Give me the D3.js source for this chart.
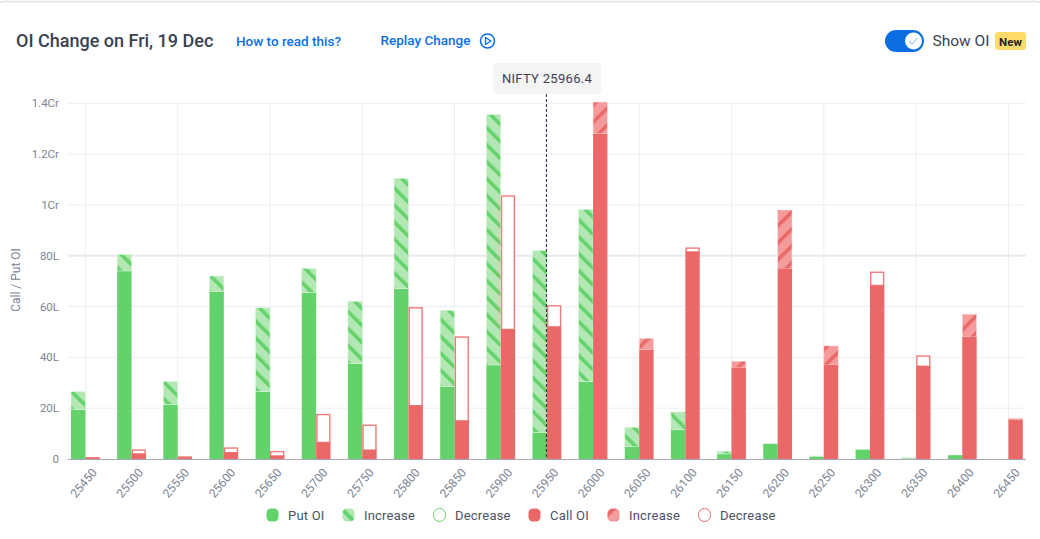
<!DOCTYPE html>
<html><head><meta charset="utf-8">
<script src="https://cdn.jsdelivr.net/npm/d3@7/dist/d3.min.js"></script>
<style>html,body{margin:0;padding:0;background:#fff;overflow:hidden}svg{display:block;font-family:Roboto,sans-serif}</style>
</head><body><svg id="c" width="1040" height="539"></svg>
<script>
const strikes=[25450,25500,25550,25600,25650,25700,25750,25800,25850,25900,25950,26000,26050,26100,26150,26200,26250,26300,26350,26400,26450];
const putBase=[19.5,74,21.5,66,26.5,65.5,37.5,67,28.5,37,10.5,30.5,5,11.5,2,6,1,3.7,0.3,1.5,0];
const putTop=[26.5,80.5,30.5,72,59.5,75,62,110.5,58.5,135.5,82,98.2,12.5,18.5,3,6,1.2,3.7,0.5,1.5,0];
const callBase=[0.2,2,0.4,2.5,1.2,6.5,3.5,21,15,51,52,128,43,81.5,36,75,37,68.3,36.5,48,15.5];
const callTop=[0.5,3.5,0.8,4.3,2.9,17.5,13.3,59.5,48,103.5,60.3,140.5,47.5,83,38.5,98,44.5,73.5,40.5,57,16];
const callKind=["dec","dec","dec","dec","dec","dec","dec","dec","dec","dec","dec","inc","inc","dec","inc","inc","inc","dec","dec","inc","inc"];
const yTicks=[0,20,40,60,80,100,120,140];
const yTickLabels=["0","20L","40L","60L","80L","1Cr","1.2Cr","1.4Cr"];
const legendItems=[["Put OI","put"],["Increase","putInc"],["Decrease","putDec"],["Call OI","call"],["Increase","callInc"],["Decrease","callDec"]];
const spot="NIFTY 25966.4", spotStrike=25950;

const GREEN="#64d26a",RED="#eb6868",PALEG="#b3e8b5",PALER="#f49c9c",TXT="#7c8394",INK="#3b4252",BLUE="#0b6fe3";
const svg=d3.select("#c");
const defs=svg.append("defs");
function hatch(id,pale,dark,rot){
  const p=defs.append("pattern").attr("id",id).attr("patternUnits","userSpaceOnUse").attr("width",12).attr("height",12).attr("patternTransform",`rotate(${rot})`);
  p.append("rect").attr("width",12).attr("height",12).attr("fill",pale);
  p.append("rect").attr("width",3.6).attr("height",12).attr("fill",dark);
}
hatch("hg",PALEG,GREEN,-45);
hatch("hr",PALER,RED,45);

// card
svg.append("rect").attr("x",-6).attr("y",1.5).attr("width",1052).attr("height",560).attr("rx",10).attr("fill","#fff").attr("stroke","#e2e2e2").attr("stroke-width",1.5);

const x=d3.scalePoint().domain(strikes).range([85.4,1008.4]);
const y=d3.scaleLinear().domain([0,140]).range([459,103.3]);
const barW=14.4;

// grid
const g=svg.append("g");
g.selectAll(".h").data(yTicks.slice(1)).join("line")
 .attr("x1",68).attr("x2",1026).attr("y1",d=>y(d)).attr("y2",d=>y(d))
 .attr("stroke",d=>d===80?"#e6e9ee":"#eceef2").attr("stroke-width",d=>d===80?2:1);
g.selectAll(".v").data(strikes.filter((d,i)=>i%2===0)).join("line")
 .attr("x1",d=>x(d)).attr("x2",d=>x(d)).attr("y1",102).attr("y2",459)
 .attr("stroke","#eceef2").attr("stroke-width",1);

// y tick labels
g.selectAll(".yl").data(yTicks).join("text")
 .attr("x",59).attr("y",d=>y(d)+4).attr("text-anchor","end").attr("font-size",11.5).attr("fill",TXT)
 .text((d,i)=>yTickLabels[i]);
svg.append("text").attr("transform","translate(20,280) rotate(-90)").attr("text-anchor","middle").attr("font-size",12).attr("fill",TXT).text("Call / Put OI");

// bars
const bars=svg.append("g");
strikes.forEach((s,i)=>{
  const gx=x(s)-barW, rx=x(s);
  if(putBase[i]>0) bars.append("rect").attr("x",gx).attr("width",barW).attr("y",y(putBase[i])).attr("height",y(0)-y(putBase[i])).attr("fill",GREEN);
  if(putTop[i]>putBase[i]) bars.append("rect").attr("x",gx).attr("width",barW).attr("y",y(putTop[i])).attr("height",y(putBase[i])-y(putTop[i])).attr("fill","url(#hg)").attr("stroke","#d9f3da").attr("stroke-width",.6);
  if(callKind[i]==="dec"){
    bars.append("rect").attr("x",rx+.75).attr("width",barW-1.5).attr("y",y(callTop[i])).attr("height",y(callBase[i])-y(callTop[i])).attr("fill","#fff").attr("stroke","#f07a7a").attr("stroke-width",1.4);
  } else {
    bars.append("rect").attr("x",rx).attr("width",barW).attr("y",y(callTop[i])).attr("height",y(callBase[i])-y(callTop[i])).attr("fill","url(#hr)").attr("stroke","#fbdcdc").attr("stroke-width",.6);
  }
  bars.append("rect").attr("x",rx).attr("width",barW).attr("y",y(callBase[i])).attr("height",y(0)-y(callBase[i])).attr("fill",RED);
});

// axis baseline and x labels
svg.append("line").attr("x1",68).attr("x2",1026).attr("y1",459.5).attr("y2",459.5).attr("stroke","#a6aab6").attr("stroke-width",1);
svg.append("g").selectAll("text").data(strikes).join("text")
 .attr("transform",d=>`translate(${x(d)+9},${470}) rotate(-50)`).attr("text-anchor","end").attr("dy","0.35em")
 .attr("font-size",12).attr("fill",TXT).text(d=>d);

// spot marker
svg.append("line").attr("x1",x(spotStrike)-.5).attr("x2",x(spotStrike)-.5).attr("y1",94).attr("y2",459).attr("stroke","#1e2a47").attr("stroke-width",1).attr("stroke-dasharray","3 2");
svg.append("rect").attr("x",493).attr("y",63).attr("width",108).attr("height",31).attr("rx",4).attr("fill","#f4f4f4");
svg.append("text").attr("x",547).attr("y",83).attr("text-anchor","middle").attr("font-size",13).attr("letter-spacing",.3).attr("fill",INK).text(spot);

// header
svg.append("text").attr("x",16).attr("y",47).attr("font-size",18).attr("font-weight",500).attr("fill",INK).text("OI Change on Fri, 19 Dec");
svg.append("text").attr("x",236).attr("y",46).attr("font-size",13.5).attr("font-weight",500).attr("fill",BLUE).text("How to read this?");
svg.append("text").attr("x",380.5).attr("y",45).attr("font-size",13.5).attr("font-weight",500).attr("fill",BLUE).text("Replay Change");
svg.append("circle").attr("cx",487.5).attr("cy",41).attr("r",7).attr("fill","none").attr("stroke",BLUE).attr("stroke-width",1.5);
svg.append("path").attr("d","M485.5 37.5L491 41L485.5 44.5Z").attr("fill","none").attr("stroke",BLUE).attr("stroke-width",1.3).attr("stroke-linejoin","round");

// toggle
svg.append("rect").attr("x",885).attr("y",30).attr("width",39).attr("height",22).attr("rx",11).attr("fill","#0b6fe3");
svg.append("circle").attr("cx",913.5).attr("cy",41).attr("r",8.5).attr("fill","#fff");
svg.append("path").attr("d","M909 41.5L912 44L917.5 38").attr("fill","none").attr("stroke","#7fb2ee").attr("stroke-width",1);
svg.append("text").attr("x",932.5).attr("y",46).attr("font-size",15.5).attr("fill",INK).text("Show OI");
svg.append("rect").attr("x",995).attr("y",32).attr("width",31).attr("height",18).attr("rx",3).attr("fill","#fddc6c");
svg.append("text").attr("x",1010.5).attr("y",45.5).attr("text-anchor","middle").attr("font-size",11.5).attr("font-weight",700).attr("fill","#222").text("New");

// legend
const legendX=[266,342,433,528,607,698];
const lg=svg.append("g");
legendItems.forEach(([label,k],i)=>{
  const lx=legendX[i];
  const base=lg.append("rect").attr("x",lx+.5).attr("y",508.5).attr("width",12).attr("height",13).attr("rx",4.5);
  if(k==="put")base.attr("fill",GREEN);
  if(k==="call")base.attr("fill",RED);
  if(k==="putInc")base.attr("fill","url(#hg)");
  if(k==="callInc")base.attr("fill","url(#hr)");
  if(k==="putDec")base.attr("fill","#fff").attr("stroke",GREEN).attr("rx",6);
  if(k==="callDec")base.attr("fill","#fff").attr("stroke",RED).attr("rx",6);
  lg.append("text").attr("x",lx+22).attr("y",519.5).attr("font-size",13).attr("letter-spacing",.2).attr("fill","#4a5263").text(label);
});
</script></body></html>
